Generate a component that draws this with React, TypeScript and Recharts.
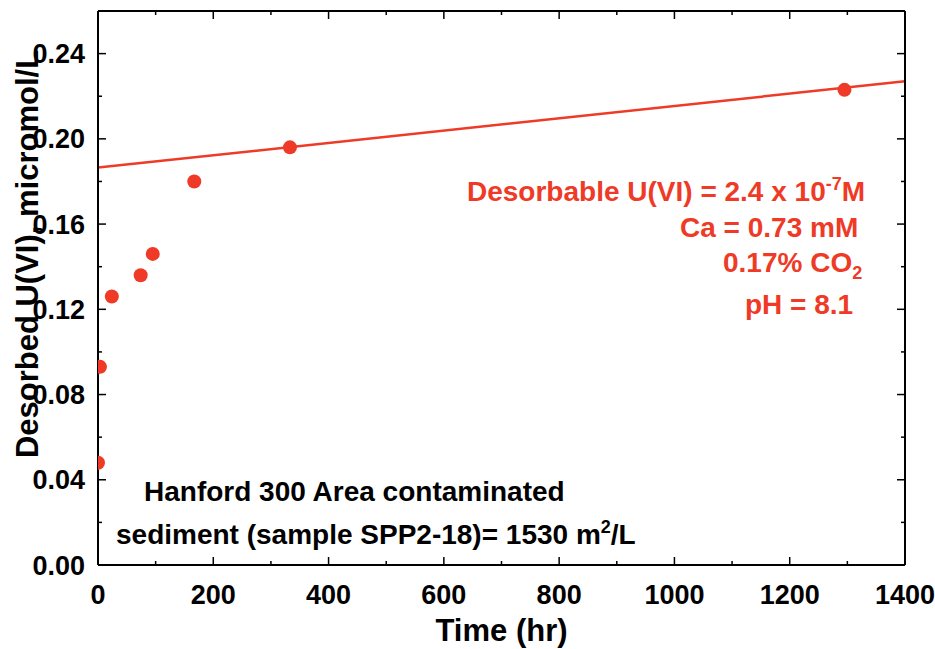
import React from "react";
import {
  ComposedChart,
  Line,
  Scatter,
  XAxis,
  YAxis,
  Customized,
} from "recharts";

// measured desorption data (hr vs micromol/L)
const timeHours = [0, 3.5, 24, 74, 95, 167, 333, 1295];
const desorbedU = [0.048, 0.093, 0.126, 0.136, 0.146, 0.18, 0.196, 0.223];

// fitted line through the late points
const fitTimes = [0, 1400];
const fitValues = [0.1865, 0.227];

const xTicks = [0, 200, 400, 600, 800, 1000, 1200, 1400];
const xTickMarks = [0, 100, 200, 300, 400, 500, 600, 700, 800, 900, 1000, 1100, 1200, 1300, 1400];
const yTicks = [0, 0.04, 0.08, 0.12, 0.16, 0.2, 0.24];
const yTickMarks = [0, 0.02, 0.04, 0.06, 0.08, 0.1, 0.12, 0.14, 0.16, 0.18, 0.2, 0.22, 0.24];

const points = timeHours.map((t, i) => ({ t, u: desorbedU[i] }));
const fitData = fitTimes.map((t, i) => ({ t, u: fitValues[i] }));

const RED = "#ee3a26";
const FONT = "'Liberation Sans', Arial, Helvetica, sans-serif";
const frame = { stroke: "#000", strokeWidth: 2 };

const tickMark = (side: "top" | "bottom" | "left" | "right") => (props: any) => {
  const { x, y, payload } = props;
  const v = payload.value;
  const major =
    side === "top" || side === "bottom"
      ? v % 200 === 0
      : Math.round(v * 100) % 4 === 0;
  const len = major ? 8 : 4;
  let x2 = x;
  let y2 = y;
  if (side === "bottom") y2 = y - len;
  if (side === "top") y2 = y + len;
  if (side === "left") x2 = x + len;
  if (side === "right") x2 = x - len;
  return <line x1={x} y1={y} x2={x2} y2={y2} stroke="#000" strokeWidth={1.5} />;
};

const Notes = () => (
  <g fontFamily={FONT} fontWeight="bold">
    <text x={38} y={254} fontSize={31} fill="#000" textAnchor="middle" transform="rotate(-90 38 254)">
      Desorbed U(VI), micromol/L
    </text>
    <text x={467} y={201} fontSize={28} fill={RED}>
      Desorbable U(VI) = 2.4 x 10
      <tspan dy={-11} fontSize={18}>-7</tspan>
      <tspan dy={11}>M</tspan>
    </text>
    <text x={680} y={237} fontSize={28} fill={RED}>
      Ca = 0.73 mM
    </text>
    <text x={723} y={272} fontSize={28} fill={RED}>
      0.17% CO
      <tspan dy={7} fontSize={18}>2</tspan>
    </text>
    <text x={745} y={314} fontSize={28} fill={RED}>
      pH = 8.1
    </text>
    <text x={144} y={501} fontSize={28} fill="#000">
      Hanford 300 Area contaminated
    </text>
    <text x={116} y={544} fontSize={28} fill="#000">
      sediment (sample SPP2-18)= 1530 m
      <tspan dy={-11} fontSize={18}>2</tspan>
      <tspan dy={11}>/L</tspan>
    </text>
  </g>
);

export default function App() {
  return (
    <div style={{ position: "absolute", left: 0, top: 0, background: "#fff" }}>
      <ComposedChart
        width={935}
        height={649}
        margin={{ top: 11, right: 30, left: 0, bottom: 0 }}
      >
        <XAxis
          dataKey="t"
          type="number"
          domain={[0, 1400]}
          ticks={xTicks}
          interval={0}
          allowDataOverflow
          height={84}
          tickLine={false}
          tickSize={0}
          tickMargin={20}
          axisLine={frame}
          tick={{ fill: "#000", fontSize: 27, fontWeight: "bold", fontFamily: FONT }}
          label={{
            value: "Time (hr)",
            position: "insideBottom",
            offset: 8,
            fill: "#000",
            fontSize: 31,
            fontWeight: "bold",
            fontFamily: FONT,
          }}
        />
        <YAxis
          type="number"
          domain={[0, 0.26]}
          ticks={yTicks}
          interval={0}
          allowDataOverflow
          width={98}
          tickLine={false}
          tickSize={0}
          tickMargin={13}
          axisLine={frame}
          tickFormatter={(v: number) => v.toFixed(2)}
          tick={{ fill: "#000", fontSize: 27, fontWeight: "bold", fontFamily: FONT }}
        />
        {/* inward tick marks on all four sides */}
        <XAxis xAxisId="xb" dataKey="t" type="number" domain={[0, 1400]} ticks={xTickMarks} interval={0} allowDataOverflow
          orientation="bottom" mirror height={1} tickLine={false} tickSize={0} tickMargin={0}
          axisLine={false} tick={tickMark("bottom")} />
        <XAxis xAxisId="xt" dataKey="t" type="number" domain={[0, 1400]} ticks={xTickMarks} interval={0} allowDataOverflow
          orientation="top" mirror height={1} tickLine={false} tickSize={0} tickMargin={0}
          axisLine={frame} tick={tickMark("top")} />
        <YAxis yAxisId="yl" type="number" domain={[0, 0.26]} ticks={yTickMarks} interval={0} allowDataOverflow
          orientation="left" mirror width={1} tickLine={false} tickSize={0} tickMargin={0}
          axisLine={false} tick={tickMark("left")} />
        <YAxis yAxisId="yr" type="number" domain={[0, 0.26]} ticks={yTickMarks} interval={0} allowDataOverflow
          orientation="right" mirror width={1} tickLine={false} tickSize={0} tickMargin={0}
          axisLine={frame} tick={tickMark("right")} />
        {/* invisible series so the tick-mark axes get a scale */}
        <Line xAxisId="xb" yAxisId="yl" data={fitData} dataKey="u" stroke="none" dot={false}
          activeDot={false} isAnimationActive={false} />
        <Line xAxisId="xt" yAxisId="yr" data={fitData} dataKey="u" stroke="none" dot={false}
          activeDot={false} isAnimationActive={false} />
        <Line
          data={fitData}
          dataKey="u"
          type="linear"
          stroke={RED}
          strokeWidth={2.5}
          dot={false}
          activeDot={false}
          isAnimationActive={false}
        />
        <Scatter
          data={points}
          dataKey="u"
          fill={RED}
          isAnimationActive={false}
          shape={(p: any) => <circle cx={p.cx} cy={p.cy} r={7} fill={RED} />}
        />
        <Customized component={Notes} />
      </ComposedChart>
    </div>
  );
}
